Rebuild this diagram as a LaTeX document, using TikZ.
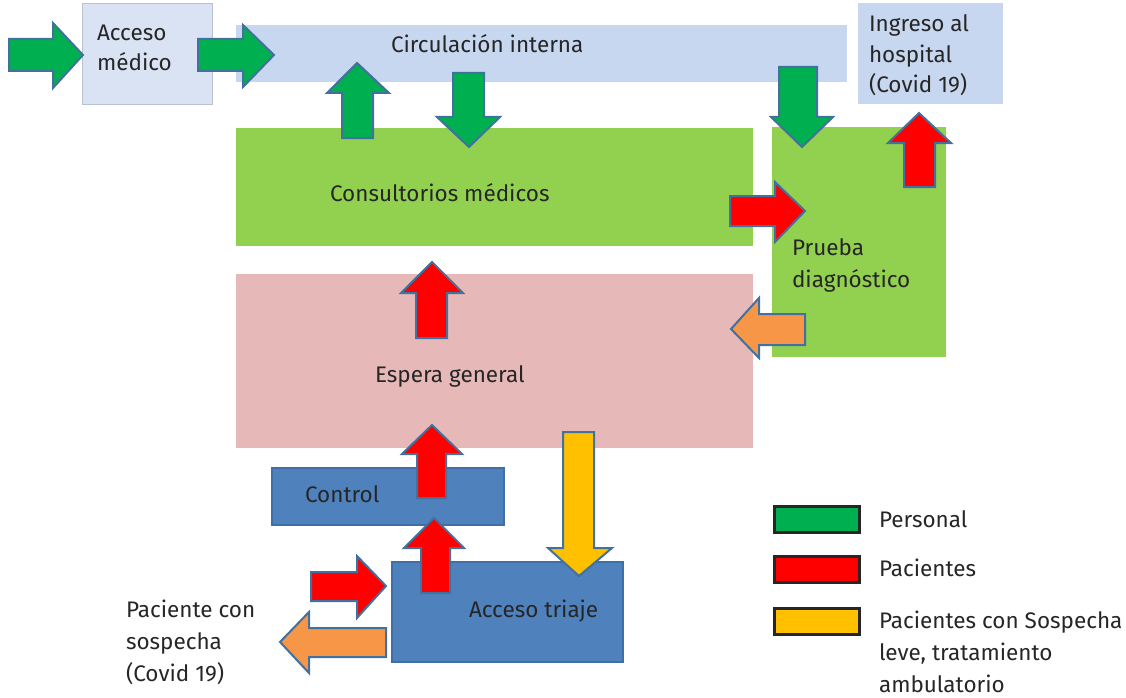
\documentclass[tikz,border=0pt]{standalone}
\usepackage{fontspec}
\setmainfont{Fira Sans}
\definecolor{lightblue}{HTML}{DAE3F3}
\definecolor{midblue}{HTML}{C6D7EF}
\definecolor{boxgreen}{HTML}{92D050}
\definecolor{boxpink}{HTML}{E6B9B8}
\definecolor{boxblue}{HTML}{4F81BD}
\definecolor{boxblueline}{HTML}{3F6FA6}
\definecolor{arrowline}{HTML}{41719C}
\definecolor{pgreen}{HTML}{00B050}
\definecolor{pred}{HTML}{FF0000}
\definecolor{porange}{HTML}{F79646}
\definecolor{pyellow}{HTML}{FFC000}
\definecolor{txt}{HTML}{262626}
\begin{document}
\begin{tikzpicture}[x=1pt,y=-1pt,
  area/.style={draw=none, inner sep=0pt, outer sep=0pt, anchor=north west},
  lbl/.style={anchor=base west, inner sep=0pt, outer sep=0pt, text=txt, font=\fontsize{22.5}{31.5}\selectfont, align=left},
  arr/.style={draw=arrowline, line width=2pt, line join=miter},
  swatch/.style={draw=txt, line width=2.5pt, inner sep=0pt, minimum width=85pt, minimum height=26pt, anchor=north west}]
\useasboundingbox (0,0) rectangle (1126,698);
% areas
\node[area, fill=lightblue, draw=lightblue!85!black, line width=0.6pt, minimum width=130pt, minimum height=101pt] (acceso) at (82,3) {};
\node[area, fill=midblue, minimum width=611pt, minimum height=57pt] (circ) at (236,25) {};
\node[area, fill=midblue, minimum width=145pt, minimum height=101pt] (ingreso) at (858,3) {};
\node[area, fill=boxgreen, minimum width=517pt, minimum height=118pt] (consult) at (236,128) {};
\node[area, fill=boxgreen, minimum width=174pt, minimum height=230pt] (prueba) at (772,127) {};
\node[area, fill=boxpink, minimum width=517pt, minimum height=174pt] (espera) at (236,274) {};
\node[area, fill=boxblue, draw=boxblueline, line width=1.5pt, minimum width=232pt, minimum height=57pt] (control) at (272,468) {};
\node[area, fill=boxblue, draw=boxblueline, line width=1.5pt, minimum width=231pt, minimum height=100pt] (triaje) at (392,562) {};
% texts (multi-line: position given is the baseline of the last line)
\node[lbl, font=\fontsize{22.5}{30}\selectfont] (tacceso) at (97,71) {Acceso\\médico};
\node[lbl] (tcirc) at (391,53) {Circulación interna};
\node[lbl, font=\fontsize{22.5}{30.5}\selectfont] (tingreso) at (869,93) {Ingreso al\\hospital\\(Covid 19)};
\node[lbl] (tconsult) at (330,201) {Consultorios médicos};
\node[lbl, font=\fontsize{22.5}{32}\selectfont] (tprueba) at (792,287) {Prueba\\diagnóstico};
\node[lbl] (tespera) at (375,382) {Espera general};
\node[lbl] (tcontrol) at (305,502) {Control};
\node[lbl] (ttriaje) at (469,617) {Acceso triaje};
\node[lbl, font=\fontsize{22.5}{32}\selectfont] (tsosp) at (126,681) {Paciente con\\sospecha\\(Covid 19)};
% arrows
\draw[arr, fill=pgreen] (9,39) -- (53,39) -- (53,23) -- (83,55) -- (53,88) -- (53,71) -- (9,71) -- cycle;
\draw[arr, fill=pgreen] (198,39) -- (243,39) -- (243,25) -- (274,55) -- (243,87) -- (243,71) -- (198,71) -- cycle;
\draw[arr, fill=pgreen] (342,138) -- (342,93) -- (327,93) -- (357,63) -- (389,93) -- (373,93) -- (373,138) -- cycle;
\draw[arr, fill=pgreen] (453,73) -- (484,73) -- (484,117) -- (500,117) -- (469,147) -- (437,117) -- (453,117) -- cycle;
\draw[arr, fill=pgreen] (779,67) -- (817,67) -- (817,117) -- (833,117) -- (802,147) -- (771,117) -- (779,117) -- cycle;
\draw[arr, fill=pred] (904,187) -- (904,143) -- (888,143) -- (919,113) -- (951,143) -- (935,143) -- (935,187) -- cycle;
\draw[arr, fill=pred] (730,196) -- (775,196) -- (775,182) -- (805,211) -- (775,242) -- (775,226) -- (730,226) -- cycle;
\draw[arr, fill=porange] (805,314) -- (759,314) -- (759,298) -- (731,329) -- (759,358) -- (759,345) -- (805,345) -- cycle;
\draw[arr, fill=pred] (416,338) -- (416,293) -- (401,293) -- (432,262) -- (463,293) -- (447,293) -- (447,338) -- cycle;
\draw[arr, fill=pred] (417,498) -- (417,454) -- (402,454) -- (432,425) -- (462,454) -- (446,454) -- (446,498) -- cycle;
\draw[arr, fill=pred] (421,593) -- (421,548) -- (404,548) -- (434,518) -- (464,548) -- (450,548) -- (450,593) -- cycle;
\draw[arr, fill=pyellow] (563,432) -- (594,432) -- (594,548) -- (612,548) -- (579,576) -- (548,548) -- (563,548) -- cycle;
\draw[arr, fill=pred] (311,572) -- (357,572) -- (357,556) -- (386,586) -- (357,618) -- (357,601) -- (311,601) -- cycle;
\draw[arr, fill=porange] (386,628) -- (309,628) -- (309,612) -- (280,642) -- (309,673) -- (309,657) -- (386,657) -- cycle;
% legend
\node[swatch, fill=pgreen] (lg) at (773,505) {};
\node[swatch, fill=pred] (lr) at (773,555) {};
\node[swatch, fill=pyellow] (ly) at (773,607) {};
\node[lbl] (tlg) at (879,527) {Personal};
\node[lbl] (tlr) at (879,576) {Pacientes};
\node[lbl, font=\fontsize{22.5}{32}\selectfont] (tly) at (879,692) {Pacientes con Sospecha\\leve, tratamiento\\ambulatorio};
\end{tikzpicture}
\end{document}
